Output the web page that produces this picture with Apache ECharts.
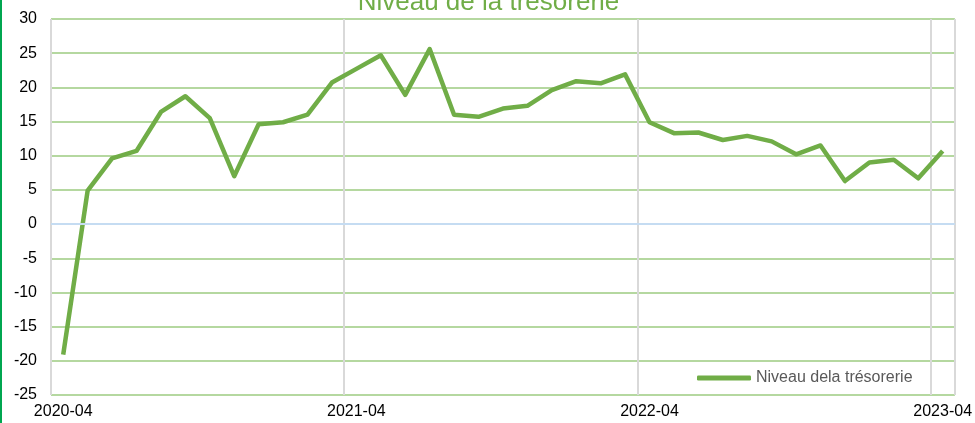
<!DOCTYPE html>
<html>
<head>
<meta charset="utf-8">
<script src="https://cdn.jsdelivr.net/npm/echarts@6/dist/echarts.min.js"></script>
<style>
  html, body { margin: 0; padding: 0; background: #fff; }
  #main { width: 973px; height: 423px; border-left: 2px solid #00a650; }
</style>
</head>
<body>
<div id="main"></div>
<script>
// mois (de 2020-04 à 2023-04)
var months = ['2020-04', '2020-05', '2020-06', '2020-07', '2020-08', '2020-09', '2020-10', '2020-11', '2020-12',
  '2021-01', '2021-02', '2021-03', '2021-04', '2021-05', '2021-06', '2021-07', '2021-08', '2021-09', '2021-10', '2021-11', '2021-12',
  '2022-01', '2022-02', '2022-03', '2022-04', '2022-05', '2022-06', '2022-07', '2022-08', '2022-09', '2022-10', '2022-11', '2022-12',
  '2023-01', '2023-02', '2023-03', '2023-04'];
// niveau de la trésorerie
var tresorerie = [-19.1, 4.9, 9.6, 10.7, 16.4, 18.7, 15.5, 7.0, 14.6,
  14.9, 16.0, 20.7, 22.7, 24.7, 18.9, 25.6, 16.0, 15.7, 16.9, 17.3, 19.6,
  20.9, 20.6, 21.9, 14.9, 13.3, 13.4, 12.3, 12.9, 12.1, 10.2, 11.5, 6.3,
  9.0, 9.4, 6.7, 10.7];

var chart = echarts.init(document.getElementById('main'));

var option = {
  animation: false,
  textStyle: { fontFamily: 'Liberation Sans, Arial, sans-serif' },
  title: {
    text: 'Niveau de la trésorerie',
    left: 'center',
    top: -15,
    textStyle: { color: '#70ad47', fontSize: 26, fontWeight: 'normal' }
  },
  legend: {
    data: ['Niveau dela trésorerie'],
    left: 690,
    top: 365,
    icon: 'roundRect',
    itemWidth: 54,
    itemHeight: 5,
    textStyle: { color: '#595959', fontSize: 16 }
  },
  grid: { left: 49, right: 18, top: 19, bottom: 28 },
  xAxis: {
    type: 'category',
    data: months,
    boundaryGap: true,
    axisLine: { show: false },
    axisTick: { show: false },
    axisLabel: { color: '#000', fontSize: 16, margin: 9, interval: 11 },
    splitLine: { show: true, interval: 11, lineStyle: { color: '#d9d9d9', width: 2 } }
  },
  yAxis: {
    type: 'value',
    min: -25,
    max: 30,
    interval: 5,
    axisLine: { show: false },
    axisTick: { show: false },
    axisLabel: { color: '#000', fontSize: 16, margin: 14 },
    splitLine: { lineStyle: { color: '#b5d8a0', width: 2 } }
  },
  series: [{
    name: 'Niveau dela trésorerie',
    type: 'line',
    data: tresorerie,
    showSymbol: false,
    symbol: 'none',
    itemStyle: { color: '#70ad47' },
    lineStyle: { color: '#70ad47', width: 4.5, join: 'round' },
    markLine: {
      silent: true,
      symbol: 'none',
      label: { show: false },
      lineStyle: { color: '#c5dcf2', width: 2, type: 'solid' },
      data: [{ yAxis: 0 }]
    }
  }]
};
chart.setOption(option);
</script>
</body>
</html>
